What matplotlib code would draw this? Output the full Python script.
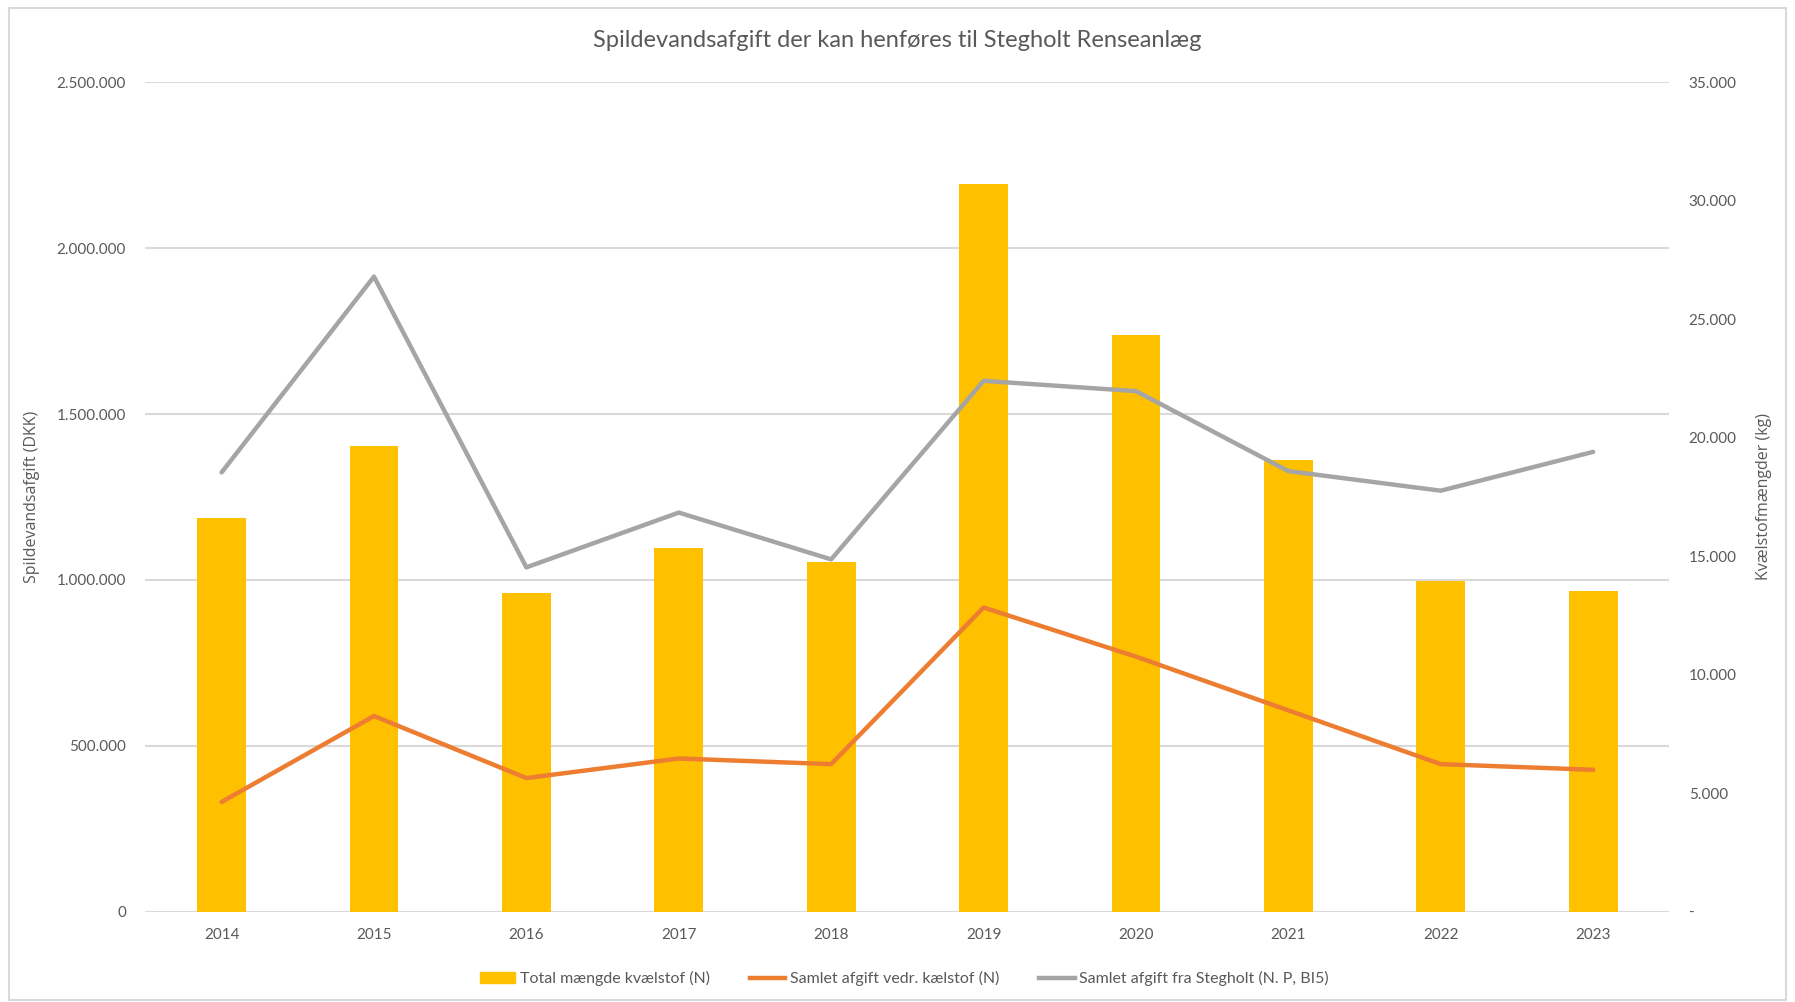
import matplotlib
matplotlib.use("Agg")
import matplotlib.pyplot as plt
from matplotlib.patches import Rectangle, Patch
from matplotlib.lines import Line2D
from matplotlib.ticker import FuncFormatter, MultipleLocator

plt.rcParams['font.family'] = ['Liberation Sans Narrow', 'Lato', 'DejaVu Sans']

years = ['2014', '2015', '2016', '2017', '2018', '2019', '2020', '2021', '2022', '2023']
# kg kvælstof (right axis)
kvaelstof_kg = [16600, 19650, 13470, 15350, 14770, 30700, 24330, 19070, 13950, 13520]
# DKK (left axis)
afgift_n = [331000, 590000, 403000, 462000, 445000, 917000, 769000, 607000, 445000, 428000]
afgift_total = [1324000, 1914000, 1038000, 1203000, 1062000, 1600000, 1569000, 1328000, 1269000, 1386000]

TXT = '#595959'
GRID = '#d9d9d9'

def dots(v, pos=None):
    return f"{int(round(v)):,}".replace(",", ".")

def dots_dash(v, pos=None):
    if abs(v) < 1e-9:
        return "-"
    return dots(v)

fig = plt.figure(figsize=(17.95, 10.02), dpi=100)
ax = fig.add_axes([0.081, 0.090, 0.849, 0.828])
ax2 = ax.twinx()

x = list(range(len(years)))
ax.set_zorder(ax2.get_zorder() + 1)
ax.patch.set_visible(False)

ax2.bar(x, kvaelstof_kg, width=0.32, color='#FFC000', zorder=2)
ax.plot(x, afgift_n, color='#ED7D31', lw=3.2, solid_capstyle='round')
ax.plot(x, afgift_total, color='#A5A5A5', lw=3.2, solid_capstyle='round')

ax.set_xlim(-0.5, len(years) - 0.5)
ax.set_ylim(0, 2500000)
ax2.set_ylim(0, 35000)
ax.yaxis.set_major_locator(MultipleLocator(500000))
ax2.yaxis.set_major_locator(MultipleLocator(5000))
ax.yaxis.set_major_formatter(FuncFormatter(dots))
ax2.yaxis.set_major_formatter(FuncFormatter(dots_dash))

ax2.grid(False)
for v in range(0, 2500001, 500000):
    ax2.axhline(v * 35000 / 2500000, color=GRID, lw=1.5, zorder=0)

ax.set_xticks(x)
ax.set_xticklabels(years)
for a in (ax, ax2):
    for s in a.spines.values():
        s.set_visible(False)
    a.tick_params(length=0, colors=TXT, labelsize=11)
ax.tick_params(axis='x', pad=12)
ax.tick_params(axis='y', pad=14)
ax2.tick_params(axis='y', pad=14)

ax.set_ylabel('Spildevandsafgift (DKK)', color=TXT, fontsize=11.5,
              family=['Open Sans', 'DejaVu Sans'], labelpad=12)
ax2.set_ylabel('Kvælstofmængder (kg)', color=TXT, fontsize=11.5, rotation=90,
               family=['Open Sans', 'DejaVu Sans'], labelpad=14)

fig.text(0.5, 0.960, 'Spildevandsafgift der kan henføres til Stegholt Renseanlæg',
         ha='center', va='center', fontsize=17, color=TXT,
         family=['Lato', 'DejaVu Sans'])

handles = [Patch(color='#FFC000'),
           Line2D([], [], color='#ED7D31', lw=3.2),
           Line2D([], [], color='#A5A5A5', lw=3.2)]
labels = ['Total mængde kvælstof (N)', 'Samlet afgift vedr. kælstof (N)',
          'Samlet afgift fra Stegholt (N. P, BI5)']
fig.legend(handles, labels, loc='center', bbox_to_anchor=(0.504, 0.023), ncol=3,
           frameon=False, fontsize=11.5, labelcolor=TXT, handlelength=2.2,
           handletextpad=0.3, columnspacing=2.5)

fig.patches.append(Rectangle((0.005, 0.002), 0.99, 0.99, transform=fig.transFigure,
                             fill=False, edgecolor='#d9d9d9', lw=1.5))

fig.savefig('out.png', dpi=100)
